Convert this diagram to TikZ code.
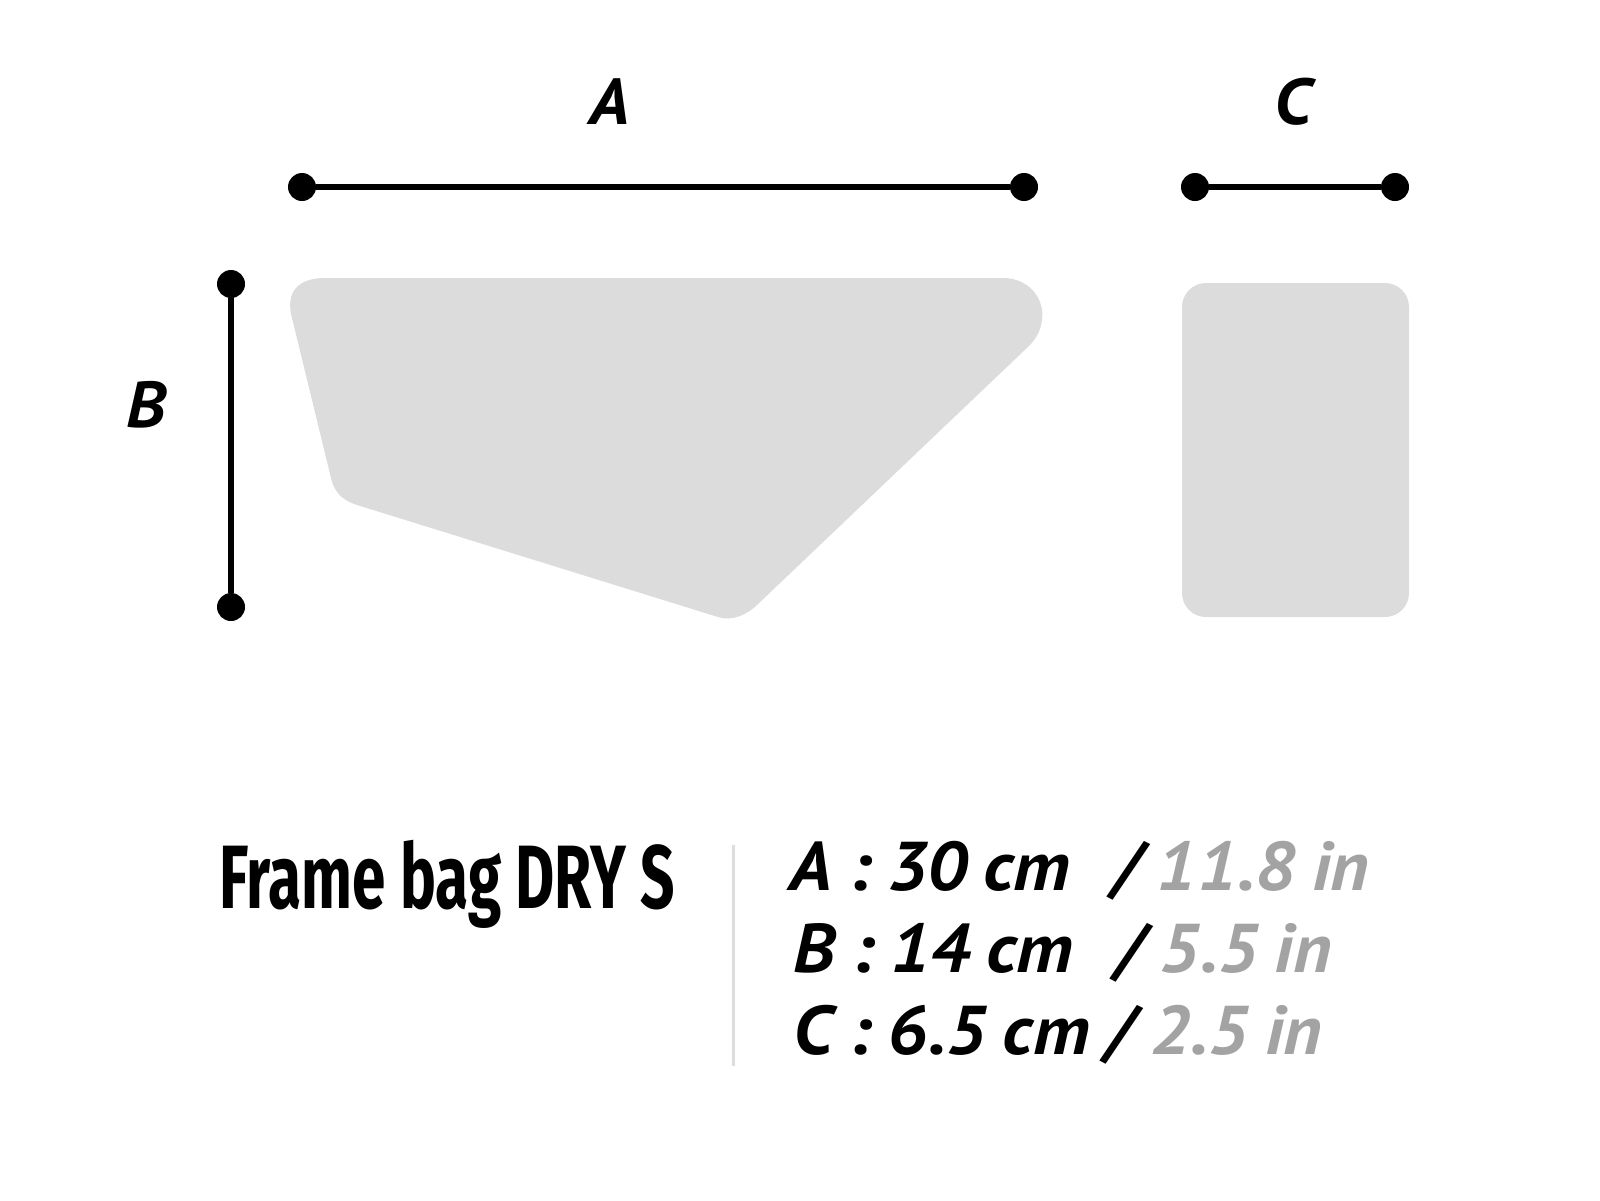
\documentclass[tikz,border=0pt]{standalone}
\usepackage{fontspec}
\setmainfont{PT Sans}
\newfontfamily\titlefont[FakeStretch=0.67]{Fira Sans}
\newfontfamily\listfont[FakeStretch=1.07,WordSpace=0.85]{PT Sans}
\definecolor{bagfill}{HTML}{DCDCDC}
\definecolor{ingray}{HTML}{A3A3A3}
\definecolor{divgray}{HTML}{DDDDDD}
\begin{document}
\begin{tikzpicture}[x=1pt,y=-1pt,
  dimline/.style={line width=5.5pt, black},
  dimdot/.style={circle, fill=black, inner sep=0pt, minimum size=28pt},
  lbl/.style={font=\fontsize{65}{70}\selectfont\listfont\bfseries\itshape, inner sep=0pt},
  listtxt/.style={font=\fontsize{69}{75}\selectfont\listfont\bfseries\itshape, inner sep=0pt, anchor=base west},
  titletxt/.style={font=\fontsize{90}{95}\selectfont\titlefont\bfseries, inner sep=0pt, anchor=base west}]
\useasboundingbox (0,0) rectangle (1600,1200);
% bag shapes
\fill[bagfill] (325,278) -- (1003,278) .. controls (1030,278) and (1045,300) .. (1042,320)
  .. controls (1040,333) and (1036,338) .. (1030,345) -- (757,605)
  .. controls (748,614) and (732,622) .. (718,617) -- (357,505)
  .. controls (345,501) and (335,495) .. (331,478) -- (292,318)
  .. controls (285,292) and (298,278) .. (325,278) -- cycle;
\fill[bagfill, rounded corners=24pt] (1182,283) rectangle (1409,617);
% dimension lines
\node[dimdot] (a1) at (302,187) {};
\node[dimdot] (a2) at (1024,187) {};
\draw[dimline] (a1) -- (a2);
\node[dimdot] (c1) at (1195,187) {};
\node[dimdot] (c2) at (1395,187) {};
\draw[dimline] (c1) -- (c2);
\node[dimdot] (b1) at (231,284) {};
\node[dimdot] (b2) at (231,607) {};
\draw[dimline] (b1) -- (b2);
\node[lbl] (la) at (610,102) {A};
\node[lbl] (lc) at (1293,102) {C};
\node[lbl] (lb) at (146,405) {B};
% title and specs
\node[titletxt] (title) at (219,908) {Frame bag DRY S};
\draw[divgray, line width=3pt] (733,845) -- (733,1066);
\node[listtxt] (l1) at (789,890) {A : 30 cm\hspace{26pt} / \textcolor{ingray}{11.8 in}};
\node[listtxt] (l2) at (793,972) {B : 14 cm\hspace{26pt} / \textcolor{ingray}{5.5 in}};
\node[listtxt] (l3) at (793,1054) {C : 6.5 cm / \textcolor{ingray}{2.5 in}};
\end{tikzpicture}
\end{document}
